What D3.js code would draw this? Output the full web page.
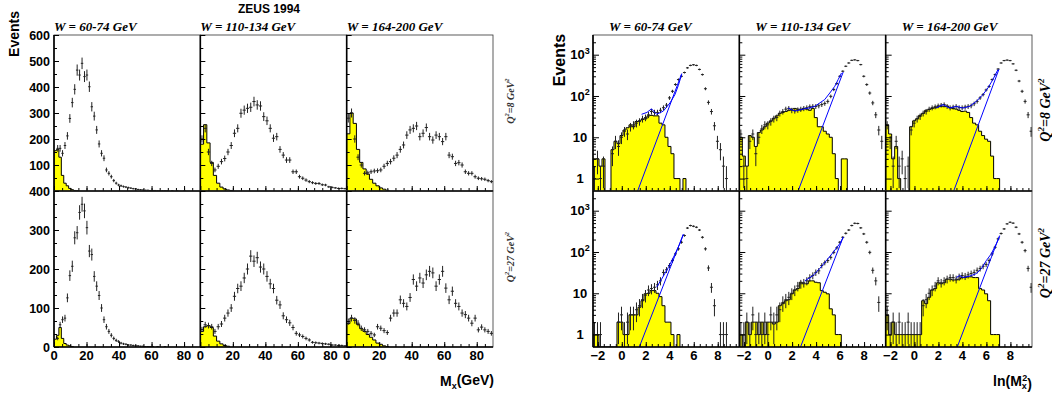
<!DOCTYPE html>
<html>
<head>
<meta charset="utf-8">
<script src="https://cdn.jsdelivr.net/npm/d3@7"></script>
<style>
body { margin: 0; background: #fff; }
svg { display: block; }
text { font-family: "Liberation Sans", Arial, sans-serif; font-weight: bold; }
.ser { font-family: "Liberation Serif", "Times New Roman", serif; font-style: italic; font-weight: bold; }
</style>
</head>
<body>
<script>
// ---- labels ----
var wLabels = ["W = 60-74 GeV", "W = 110-134 GeV", "W = 164-200 GeV"];
var q2Labels = ["8", "27"];
var mxTickLabels = [0, 20, 40, 60, 80];
var lnTickLabels = [-2, 0, 2, 4, 6, 8];
var linYLabels = [[100, 200, 300, 400, 500, 600], [0, 100, 200, 300, 400]];
var logYLabels = [1, 10, 100, 1000];

// ---- M_x distributions (events per bin), bin widths in GeV per W column ----
var mxBin = [1.5, 2, 2];
var mxDat8a = [0,164,164,145,175,212,279,340,391,465,446,491,440,446,401,324,288,235,181,145,126,81,68,55,40,30,23,20,17,15,13,11,9,8,6,5,4,3,3,2,2,2,1,1,1,1,1,0,1,0,1,0,0,1,0,0,0,0,0,0];
var mxDat8b = [200,241,150,106,81,95,113,125,150,175,222,241,299,311,318,322,344,331,327,286,270,241,203,209,160,138,119,119,74,74,55,49,42,36,32,29,29,24,23,16,14,12,10,10,9];
var mxDat8c = [280,300,200,130,100,68,70,74,77,78,81,95,106,113,126,138,160,177,215,235,241,250,209,222,244,209,196,215,209,190,209,138,132,106,109,100,74,68,68,55,49,47,45,40,36];
var mxDat27a = [0,22,57,70,74,126,183,207,280,293,345,366,349,306,246,237,181,156,132,100,70,52,40,30,22,17,14,10,8,7,5,5,4,3,3,2,2,1,1,1,1,0,1,0,0,1,0,0,0,0,0,0,0,0,0,0,0,0,0,0];
var mxDat27b = [45,57,55,52,40,52,59,74,87,100,130,150,156,177,200,233,220,229,205,200,181,162,150,120,108,80,70,62,50,35,31,27,22,18,12,11,10,9,8,7,5,5,4,4,3];
var mxDat27c = [65,74,68,61,48,44,40,35,31,52,48,42,37,74,87,87,121,112,104,127,173,156,177,164,185,194,190,156,173,194,151,121,143,112,104,87,83,74,61,74,44,51,44,40,35];

var mxMC8a = [155,160,130,60,30,20,10,5,2,1];
var mxMC8b = [180,255,185,110,60,30,15,8,4,2];
var mxMC8c = [220,300,260,160,110,85,65,45,30,20,12,7,3];
var mxMC27a = [20,30,50,22,9,5,3,1];
var mxMC27b = [40,52,55,50,28,15,8,4,2];
var mxMC27c = [60,74,72,58,47,40,32,25,18,10,7,3,1];

// ---- ln(M_x^2) distributions, bins of 0.25 starting at -2.4 ----
var lnStart = -2.4, lnBin = 0.25;
var lnDat8a = [1,3,1,2,0,0,4,8,6,10,14,12,18,20,22,24,28,30,35,42,40,40,45,52,60,90,130,190,250,300,370,480,550,570,550,440,330,150,70,42,19,8,5,2,1,0,0,0,0];
var lnDat8b = [12,2,1,8,12,4,10,16,20,20,24,28,30,38,42,48,50,45,44,46,48,50,52,55,56,56,58,62,66,74,98,143,200,300,398,525,630,730,750,720,575,300,189,118,68,35,15,8,0];
var lnDat8c = [20,8,2,8,2,3,1,2,15,22,28,32,38,42,48,52,55,58,60,62,56,52,54,56,52,52,54,56,58,65,74,90,108,140,170,250,330,450,630,720,740,720,600,420,230,130,74,35,14];
var lnDat27a = [1,1,1,0,0,0,0,0,2,3,1,2,3,3,4,5,7,9,12,13,14,16,20,32,37,47,62,90,119,172,250,380,437,420,398,340,227,119,41,14,5,0,1,1,1,0,0,0,0];
var lnDat27b = [1,1,2,1,3,1,2,1,2,1,3,2,3,4,6,7,8,10,12,15,17,18,20,24,27,32,35,47,55,62,74,98,126,172,227,283,340,437,495,490,384,274,172,98,36,20,6,0,0];
var lnDat27c = [3,1,2,1,2,1,1,2,1,1,1,1,5,7,10,12,15,20,18,20,22,24,24,22,25,27,26,28,30,32,36,40,45,50,62,90,130,208,280,362,480,525,500,398,274,172,108,40,14];

var lnMC8a = [3,3,2,3,0,0,5,8,7,11,15,17,20,18,24,25,27,28,33,34,33,33,22,20,10,6,4,1,1,0,1];
var lnMC8b = [10,3.5,2,11,10,6,13,15,18,22,25,29,33,38,40,42,45,48,50,48,46,50,48,45,50,30,18,18,14,12,10,4,1,0,3,3];
var lnMC8c = [20,12,3,6,1,0,0,0,18,25,28,34,38,45,47,50,52,55,56,55,57,52,50,48,45,42,43,40,30,22,20,14,11,9,8,3.5,1,1];
var lnMC27a = [1,1,0,0,0,0,0,0,2,2,1,1,3,3,3,4.6,6.6,9.7,10,11.6,11.6,10,8.3,5,2,2,1,0,1];
var lnMC27b = [1,0,2,1,2,2,1,2,1,2,2,1.8,2,5,5.6,6.6,7,9.7,12,13,18.5,17,17,20,20,18.5,18,11.6,10.6,9.7,4.2,3,1,1];
var lnMC27c = [3,1,2,1,1,1,1,1,1,1,1,1,6.6,5.6,8,12,13,18,17,18,22,22,21,21,22,24,24,25,25,24,24,13,12,9.7,6.6,1,1,1];

// exponential fit (straight on log scale) and fit + MC sum, as [ln(Mx^2), events]
var lnFit8a = [[1.32,0.5],[5.0,350]];
var lnFit8b = [[2.5,0.5],[6.26,380]];
var lnFit8c = [[3.27,0.5],[7.04,440]];
var lnFit27a = [[1.46,0.5],[5.13,270]];
var lnFit27b = [[2.7,0.5],[6.26,230]];
var lnFit27c = [[3.57,0.5],[7.1,250]];
var lnSum8a = [[1.65,36],[2.1,40],[2.48,49],[2.9,36],[3.46,43],[4.02,68],[4.43,108],[4.71,178],[4.99,330]];
var lnSum8b = [[1.67,51],[2.23,43],[2.78,47],[3.34,51],[3.89,56],[4.31,68],[4.72,82],[5.14,118],[5.56,172],[5.84,250],[6.12,361]];
var lnSum8c = [[1.82,51],[2.38,62],[2.93,51],[3.49,56],[4.04,51],[4.6,56],[5.16,74],[5.71,108],[6.13,157],[6.54,250],[6.96,435]];
var lnSum27a = [[2.9,14],[3.32,22],[3.88,42],[4.36,80],[4.85,160],[5.13,265]];
var lnSum27b = [[3.06,20],[3.75,27],[4.31,40],[4.86,62],[5.42,98],[5.98,160],[6.26,227]];
var lnSum27c = [[3.49,24],[3.77,27],[4.04,24],[4.6,26],[5.16,30],[5.57,39],[5.99,62],[6.4,90],[6.82,157],[7.1,236]];

var mxDat = [[mxDat8a, mxDat8b, mxDat8c], [mxDat27a, mxDat27b, mxDat27c]];
var mxMC = [[mxMC8a, mxMC8b, mxMC8c], [mxMC27a, mxMC27b, mxMC27c]];
var lnDat = [[lnDat8a, lnDat8b, lnDat8c], [lnDat27a, lnDat27b, lnDat27c]];
var lnMC = [[lnMC8a, lnMC8b, lnMC8c], [lnMC27a, lnMC27b, lnMC27c]];
var lnFit = [[lnFit8a, lnFit8b, lnFit8c], [lnFit27a, lnFit27b, lnFit27c]];
var lnSum = [[lnSum8a, lnSum8b, lnSum8c], [lnSum27a, lnSum27b, lnSum27c]];

// ---- layout ----
var svg = d3.select("body").append("svg").attr("width", 1052).attr("height", 395);
var defs = svg.append("defs");

function cols(x0, x1) {
  var w = (x1 - x0) / 3;
  return [0, 1, 2].map(function(i) { return [x0 + i * w, x0 + (i + 1) * w]; });
}
var lCols = cols(54, 493), rCols = cols(593, 1032);
var rowY = [[35, 191], [191, 347]];

var linY = [d3.scaleLinear().domain([0, 600]).range([191, 35]),
            d3.scaleLinear().domain([0, 400]).range([347, 191])];
var logY = rowY.map(function(r) {
  return d3.scaleLog().domain([0.5, 3000]).range([r[1], r[0]]).clamp(true);
});

function hist(g, vals, start, bw, x, y, base) {
  var pts = [[start, base]];
  vals.forEach(function(v, i) {
    var vv = Math.max(v, base);
    pts.push([start + i * bw, vv], [start + (i + 1) * bw, vv]);
  });
  pts.push([start + vals.length * bw, base]);
  g.append("path")
    .attr("d", d3.line().x(function(d) { return x(d[0]); }).y(function(d) { return y(d[1]); })(pts))
    .attr("fill", "#ffff00").attr("stroke", "#000").attr("stroke-width", 1);
}

function points(g, vals, start, bw, x, y, low) {
  vals.forEach(function(v, i) {
    if (!(v > 0)) return;
    var c = start + (i + 0.5) * bw, e = Math.sqrt(v);
    g.append("line").attr("x1", x(c - bw / 2)).attr("x2", x(c + bw / 2))
      .attr("y1", y(v)).attr("y2", y(v));
    g.append("line").attr("x1", x(c)).attr("x2", x(c))
      .attr("y1", y(Math.max(v - e, low))).attr("y2", y(v + e));
  });
}

function yTicks(x0, y, vals, len) {
  svg.append("g").attr("transform", "translate(" + x0 + ",0)")
    .call(d3.axisLeft(y).tickValues(vals).tickSize(-len).tickFormat(""))
    .call(function(s) { s.select(".domain").remove(); });
}
function xTicks(y0, x, vals, len) {
  svg.append("g").attr("transform", "translate(0," + y0 + ")")
    .call(d3.axisBottom(x).tickValues(vals).tickSize(-len).tickFormat(""))
    .call(function(s) { s.select(".domain").remove(); });
}

function frame(c, r) {
  svg.append("rect").attr("x", c[0]).attr("y", r[0]).attr("width", c[1] - c[0]).attr("height", r[1] - r[0])
    .attr("fill", "none").attr("stroke", "#333").attr("stroke-width", 0.8);
  svg.append("line").attr("x1", c[0]).attr("x2", c[0]).attr("y1", r[0]).attr("y2", r[1])
    .attr("stroke", "#000").attr("stroke-width", 1.6);
  svg.append("line").attr("x1", c[0]).attr("x2", c[1]).attr("y1", r[1]).attr("y2", r[1])
    .attr("stroke", "#000").attr("stroke-width", 1.6);
}

function clip(id, c, r) {
  defs.append("clipPath").attr("id", id).append("rect")
    .attr("x", c[0]).attr("y", r[0]).attr("width", c[1] - c[0]).attr("height", r[1] - r[0]);
  return svg.append("g").attr("clip-path", "url(#" + id + ")")
    .attr("stroke", "#222").attr("stroke-width", 1);
}

// ---- linear M_x panels ----
rowY.forEach(function(r, ri) {
  lCols.forEach(function(c, ci) {
    var x = d3.scaleLinear().domain([0, 90]).range(c);
    var y = linY[ri];
    var g = clip("cl" + ri + ci, c, r);
    hist(g, mxMC[ri][ci], 0, mxBin[ci], x, y, 0);
    points(g, mxDat[ri][ci], 0, mxBin[ci], x, y, 0);
    frame(c, r);
    var top = y.domain()[1];
    yTicks(c[0], y, d3.range(0, top + 1, 100), 5);
    yTicks(c[0], y, ri === 0 ? d3.range(50, top, 100) : d3.range(0, top, 100 / 3), 3);
    xTicks(r[1], x, d3.range(0, 90, 20), 5);
    xTicks(r[1], x, d3.range(5, 90, 5), 3);
    if (ri === 1) {
      mxTickLabels.forEach(function(t) {
        svg.append("text").attr("x", x(t)).attr("y", 360).attr("text-anchor", "middle")
          .attr("font-size", 13).text(t);
      });
    }
  });
  linYLabels[ri].forEach(function(t) {
    svg.append("text").attr("x", 50).attr("y", linY[ri](t)).attr("dy", "0.36em")
      .attr("text-anchor", "end").attr("font-size", 12.5).text(t);
  });
});

// ---- log ln(M_x^2) panels ----
rowY.forEach(function(r, ri) {
  rCols.forEach(function(c, ci) {
    var x = d3.scaleLinear().domain([-2.4, 9.8]).range(c);
    var y = logY[ri];
    var g = clip("cr" + ri + ci, c, r);
    hist(g, lnMC[ri][ci], lnStart, lnBin, x, y, 0.5);
    points(g, lnDat[ri][ci], lnStart, lnBin, x, y, 0.3);
    var line = d3.line().x(function(d) { return x(d[0]); }).y(function(d) { return y(d[1]); });
    g.append("path").attr("d", line(lnFit[ri][ci])).attr("fill", "none").attr("stroke", "#0000ff").attr("stroke-width", 1);
    g.append("path").attr("d", line(lnSum[ri][ci])).attr("fill", "none").attr("stroke", "#0000ff").attr("stroke-width", 1);
    frame(c, r);
    yTicks(c[0], y, logYLabels, 6);
    var minor = [];
    [1, 10, 100, 1000].forEach(function(d) { for (var k = 2; k < 10; k++) if (d * k < 3000) minor.push(d * k); });
    yTicks(c[0], y, minor, 3);
    xTicks(r[1], x, d3.range(-2, 9.9, 2), 5);
    xTicks(r[1], x, d3.range(-2, 9.9, 0.5), 3);
    if (ri === 1) {
      lnTickLabels.forEach(function(t) {
        svg.append("text").attr("x", x(t)).attr("y", 360).attr("text-anchor", "middle")
          .attr("font-size", 13).text(t < 0 ? "\u2212" + (-t) : t);
      });
    }
  });
  logYLabels.forEach(function(t) {
    var tx = svg.append("text").attr("x", 580).attr("y", logY[ri](t)).attr("dy", "0.36em")
      .attr("text-anchor", "middle").attr("font-size", 13);
    if (t < 100) tx.text(t);
    else {
      tx.text("10");
      tx.append("tspan").attr("font-size", 9).attr("dy", "-0.6em").text(Math.round(Math.log10(t)));
    }
  });
});

// ---- titles ----
svg.append("text").attr("x", 269).attr("y", 13).attr("text-anchor", "middle").attr("font-size", 12).text("ZEUS 1994");
wLabels.forEach(function(t, i) {
  svg.append("text").attr("class", "ser").attr("x", lCols[i][0]).attr("y", 31).attr("font-size", 13).text(t);
  svg.append("text").attr("class", "ser").attr("x", rCols[i][0] + 16).attr("y", 31).attr("font-size", 13).text(t);
});

function q2(xb, yc, size, fill) {
  var t = svg.append("text").attr("class", "ser").attr("text-anchor", "middle").attr("font-size", size)
    .attr("fill", fill).attr("transform", "translate(" + xb + "," + yc + ") rotate(-90)");
  return t;
}
[[101, 257, 514, 10, "#333"], [110, 263, 1050, 14, "#000"]].forEach(function(p) {
  q2Labels.forEach(function(q, i) {
    var t = q2(p[2], p[i], p[3], p[4]);
    t.append("tspan").text("Q");
    t.append("tspan").attr("font-size", p[3] * 0.65).attr("dy", "-0.7em").text("2");
    t.append("tspan").attr("dy", "0.45em").text("=" + q + " GeV");
    t.append("tspan").attr("font-size", p[3] * 0.65).attr("dy", "-0.7em").text("2");
  });
});

svg.append("text").attr("transform", "translate(19,34) rotate(-90)").attr("text-anchor", "middle")
  .attr("font-size", 14).text("Events");
svg.append("text").attr("transform", "translate(565,60) rotate(-90)").attr("text-anchor", "middle")
  .attr("font-size", 16).text("Events");

var mt = svg.append("text").attr("x", 494).attr("y", 386).attr("text-anchor", "end").attr("font-size", 14);
mt.append("tspan").text("M");
mt.append("tspan").attr("font-size", 9).attr("dy", "0.3em").text("x");
mt.append("tspan").attr("dy", "-0.3em").text("(GeV)");

var lt = svg.append("text").attr("x", 1032).attr("y", 386).attr("text-anchor", "end").attr("font-size", 14);
lt.append("tspan").text("ln(M");
lt.append("tspan").attr("font-size", 9).attr("dy", "0.3em").text("x");
lt.append("tspan").attr("font-size", 9).attr("dx", "-0.5em").attr("dy", "-0.9em").text("2");
lt.append("tspan").attr("dy", "0.6em").text(")");
</script>
</body>
</html>
